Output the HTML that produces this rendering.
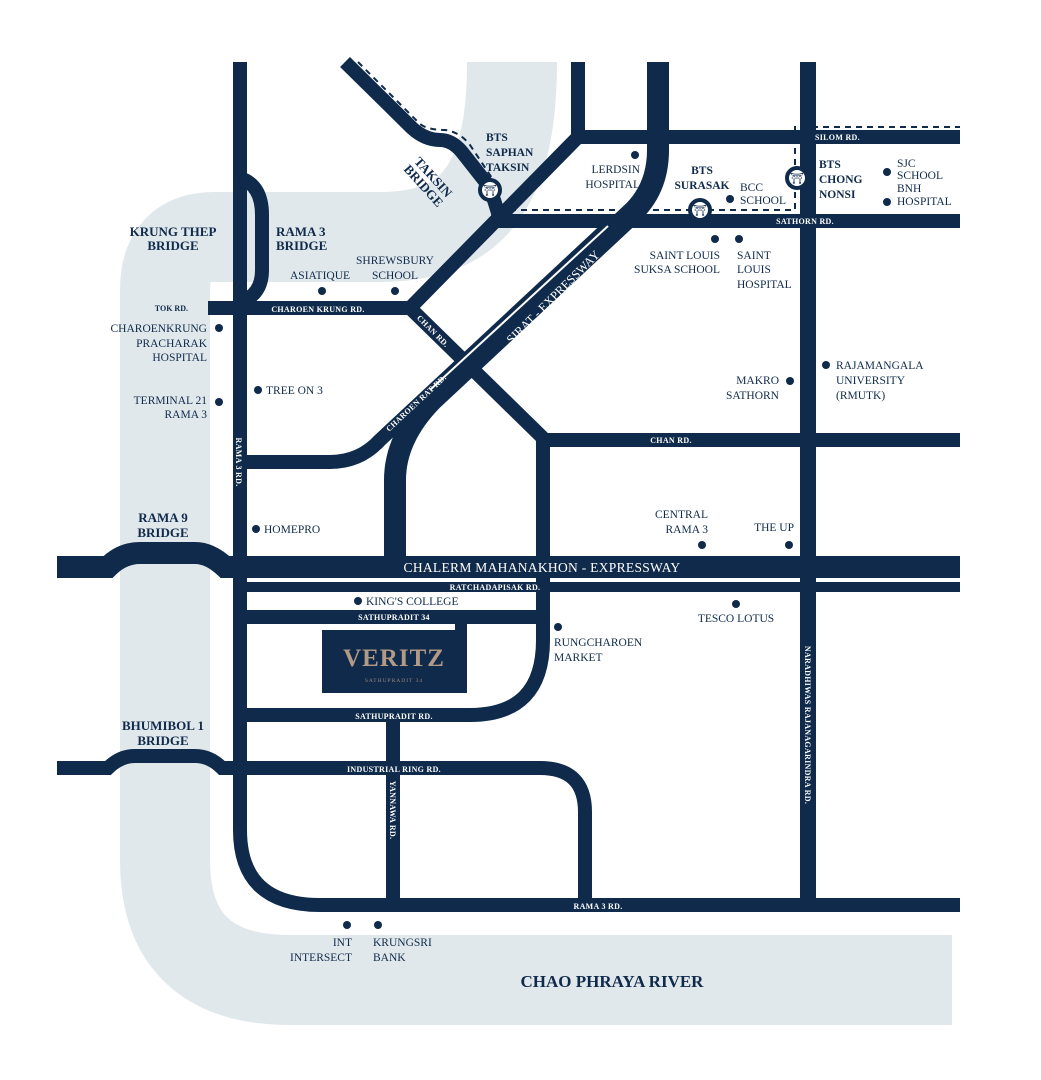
<!DOCTYPE html>
<html><head><meta charset="utf-8"><style>
html,body{margin:0;padding:0;background:#fff;}
svg{display:block;}
text{font-family:"Liberation Serif",serif;}
.l{font-size:11.5px;fill:#0f2a4a;}
.b{font-size:13px;fill:#0f2a4a;font-weight:bold;}
.w{font-size:8px;fill:#fff;font-weight:bold;letter-spacing:0.3px;}
</style></head><body>
<svg width="1041" height="1080" viewBox="0 0 1041 1080">
<path d="M512,62 C512,190 470,237 380,237 L215,237 Q165,237 165,290 L165,860 Q165,980 290,980 L952,980" fill="none" stroke="#e1e8ec" stroke-width="90"/>
<g fill="none" stroke="#0f2a4a" stroke-width="14">
<path d="M240,62 L240,830 Q240,905 320,905 L960,905"/>
<path d="M240,178 Q262,185 262,215 L262,270 Q262,295 240,302"/>
<path d="M208,308 L410,308"/>
<path d="M578,62 L578,137 L410,308"/>
<path d="M578,137 L960,137"/>
<path d="M492,221 L960,221"/>
<path d="M345,62 L412,128 Q425,140 440,140 Q452,140 462,152 L488,185 Q495,200 500,221"/>
<path d="M410,308 L545,440 L960,440"/>
<path d="M543,440 L543,640 Q543,715 470,715 L245,715"/>
<path d="M245,462 L330,462 Q360,462 380,440 L615,221"/>
<path d="M245,617 L540,617"/>
<path d="M57,768 L108,768 Q120,756 135,756 L195,756 Q210,756 222,768 L540,768 Q585,768 585,812 L585,905"/>
<path d="M393,715 L393,905"/>
<path d="M808,62 L808,905" stroke-width="16"/>
<path d="M245,587 L960,587" stroke-width="10"/>
</g>
<path d="M658,62 L658,150 Q658,190 630,215 L432,400 Q395,438 395,480 L395,567" fill="none" stroke="#0f2a4a" stroke-width="22"/>
<path d="M608,226 L430,390" fill="none" stroke="#fff" stroke-width="2"/>
<path d="M57,567 L108,567 Q122,553 140,553 L195,553 Q210,553 225,567 L960,567" fill="none" stroke="#0f2a4a" stroke-width="22"/>
<g fill="none" stroke="#0f2a4a" stroke-width="2" stroke-dasharray="6,5">
<path d="M358,62 L420,124 Q428,130 445,130 Q460,132 470,145 L492,178"/>
<path d="M510,210 L795,210 L795,127 L960,127"/>
</g>
<g fill="#fff" stroke="#0f2a4a" stroke-width="4">
<circle cx="490" cy="190" r="10"/><circle cx="700" cy="210" r="10"/><circle cx="797" cy="178" r="10"/>
</g>
<g fill="#0f2a4a" font-size="11" text-anchor="middle" font-family="Liberation Serif">
<text x="490" y="194">⛩</text><text x="700" y="214">⛩</text><text x="797" y="182">⛩</text>
</g>
<rect x="455" y="620" width="12" height="10" fill="#0f2a4a"/>
<rect x="322" y="630" width="145" height="63" fill="#0f2a4a"/>
<text x="394" y="666" text-anchor="middle" font-size="25" fill="#b39a86" font-weight="bold" letter-spacing="1">VERITZ</text>
<text x="394" y="682" text-anchor="middle" font-size="5.5" fill="#9a8a80" letter-spacing="1">SATHUPRADIT 34</text>
<text class="w" x="815" y="140">SILOM RD.</text>
<text class="w" x="805" y="224" text-anchor="middle">SATHORN RD.</text>
<text x="188" y="311" text-anchor="end" font-size="8" font-weight="bold" fill="#0f2a4a">TOK RD.</text>
<text class="w" x="318" y="312" text-anchor="middle">CHAROEN KRUNG RD.</text>
<text class="w" x="671" y="443" text-anchor="middle">CHAN RD.</text>
<text class="w" x="495" y="590" text-anchor="middle">RATCHADAPISAK RD.</text>
<text x="542" y="572" text-anchor="middle" font-size="13.5" fill="#fff" letter-spacing="0.3">CHALERM MAHANAKHON - EXPRESSWAY</text>
<text class="w" x="394" y="620" text-anchor="middle">SATHUPRADIT 34</text>
<text class="w" x="394" y="719" text-anchor="middle">SATHUPRADIT RD.</text>
<text class="w" x="394" y="772" text-anchor="middle">INDUSTRIAL RING RD.</text>
<text class="w" x="598" y="909" text-anchor="middle">RAMA 3 RD.</text>
<text class="w" transform="translate(236,462) rotate(90)" text-anchor="middle">RAMA 3 RD.</text>
<text class="w" transform="translate(805,725) rotate(90)" text-anchor="middle">NARADHIWAS RAJANAGARINDRA RD.</text>
<text class="w" transform="translate(390,810) rotate(90)" text-anchor="middle">YANNAWA RD.</text>
<text class="w" transform="translate(431,333) rotate(45)" text-anchor="middle">CHAN RD.</text>
<text class="w" transform="translate(418,405) rotate(-43)" text-anchor="middle">CHAROEN RAT RD.</text>
<text transform="translate(556,300) rotate(-45)" text-anchor="middle" font-size="12.5" fill="#fff">SIRAT - EXPRESSWAY</text>
<text class="b" text-anchor="middle"><tspan x="173" y="236">KRUNG THEP</tspan><tspan x="173" y="250">BRIDGE</tspan></text>
<text class="b"><tspan x="276" y="236">RAMA 3</tspan><tspan x="276" y="250">BRIDGE</tspan></text>
<text class="b" text-anchor="middle"><tspan x="163" y="522">RAMA 9</tspan><tspan x="163" y="537">BRIDGE</tspan></text>
<text class="b" text-anchor="middle"><tspan x="163" y="730">BHUMIBOL 1</tspan><tspan x="163" y="745">BRIDGE</tspan></text>
<text class="b" transform="translate(430,180) rotate(48)" text-anchor="middle"><tspan x="0" y="0">TAKSIN</tspan><tspan x="0" y="13">BRIDGE</tspan></text>
<text x="612" y="987" text-anchor="middle" font-size="17" font-weight="bold" fill="#0f2a4a">CHAO PHRAYA RIVER</text>
<text class="l" font-weight="bold"><tspan x="486" y="141">BTS</tspan><tspan x="486" y="156">SAPHAN</tspan><tspan x="486" y="171">TAKSIN</tspan></text>
<text class="l" font-weight="bold" text-anchor="middle"><tspan x="702" y="174">BTS</tspan><tspan x="702" y="189">SURASAK</tspan></text>
<text class="l" font-weight="bold"><tspan x="819" y="168">BTS</tspan><tspan x="819" y="183">CHONG</tspan><tspan x="819" y="198">NONSI</tspan></text>
<g fill="#0f2a4a">
<circle cx="635" cy="155" r="4"/><circle cx="730" cy="199" r="4"/><circle cx="887" cy="172" r="4"/><circle cx="887" cy="202" r="4"/>
<circle cx="715" cy="239" r="4"/><circle cx="739" cy="239" r="4"/><circle cx="322" cy="291" r="4"/><circle cx="395" cy="291" r="4"/>
<circle cx="219" cy="328" r="4"/><circle cx="219" cy="402" r="4"/><circle cx="258" cy="390" r="4"/><circle cx="826" cy="365" r="4"/>
<circle cx="790" cy="381" r="4"/><circle cx="256" cy="529" r="4"/><circle cx="702" cy="545" r="4"/><circle cx="789" cy="545" r="4"/>
<circle cx="358" cy="601" r="4"/><circle cx="736" cy="604" r="4"/><circle cx="558" cy="627" r="4"/><circle cx="347" cy="925" r="4"/><circle cx="378" cy="925" r="4"/>
</g>
<text class="l" text-anchor="end"><tspan x="640" y="173">LERDSIN</tspan><tspan x="640" y="188">HOSPITAL</tspan></text>
<text class="l"><tspan x="740" y="191">BCC</tspan><tspan x="740" y="204">SCHOOL</tspan></text>
<text class="l"><tspan x="897" y="167">SJC</tspan><tspan x="897" y="179">SCHOOL</tspan><tspan x="897" y="192">BNH</tspan><tspan x="897" y="205">HOSPITAL</tspan></text>
<text class="l" text-anchor="end"><tspan x="720" y="259">SAINT LOUIS</tspan><tspan x="720" y="273">SUKSA SCHOOL</tspan></text>
<text class="l"><tspan x="737" y="259">SAINT</tspan><tspan x="737" y="273">LOUIS</tspan><tspan x="737" y="288">HOSPITAL</tspan></text>
<text class="l" x="290" y="279">ASIATIQUE</text>
<text class="l" text-anchor="middle"><tspan x="395" y="264">SHREWSBURY</tspan><tspan x="395" y="279">SCHOOL</tspan></text>
<text class="l" text-anchor="end"><tspan x="207" y="332">CHAROENKRUNG</tspan><tspan x="207" y="347">PRACHARAK</tspan><tspan x="207" y="361">HOSPITAL</tspan></text>
<text class="l" text-anchor="end"><tspan x="207" y="404">TERMINAL 21</tspan><tspan x="207" y="418">RAMA 3</tspan></text>
<text class="l" x="266" y="394">TREE ON 3</text>
<text class="l"><tspan x="836" y="369">RAJAMANGALA</tspan><tspan x="836" y="384">UNIVERSITY</tspan><tspan x="836" y="399">(RMUTK)</tspan></text>
<text class="l" text-anchor="end"><tspan x="779" y="384">MAKRO</tspan><tspan x="779" y="399">SATHORN</tspan></text>
<text class="l" x="264" y="533">HOMEPRO</text>
<text class="l" text-anchor="end"><tspan x="708" y="518">CENTRAL</tspan><tspan x="708" y="533">RAMA 3</tspan></text>
<text class="l" text-anchor="end" x="794" y="531">THE UP</text>
<text class="l" x="366" y="605">KING'S COLLEGE</text>
<text class="l" text-anchor="middle" x="736" y="622">TESCO LOTUS</text>
<text class="l"><tspan x="554" y="646">RUNGCHAROEN</tspan><tspan x="554" y="661">MARKET</tspan></text>
<text class="l" text-anchor="end"><tspan x="352" y="946">INT</tspan><tspan x="352" y="961">INTERSECT</tspan></text>
<text class="l"><tspan x="373" y="946">KRUNGSRI</tspan><tspan x="373" y="961">BANK</tspan></text>
</svg>
</body></html>
